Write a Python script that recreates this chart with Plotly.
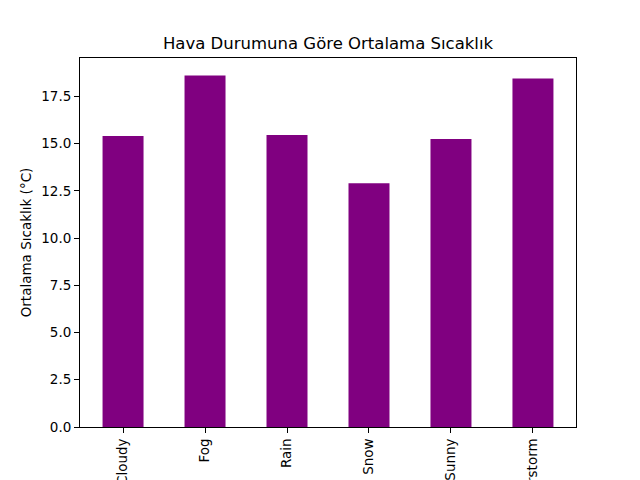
import plotly.graph_objects as go

## Data
conditions = ["Cloudy", "Fog", "Rain", "Snow", "Sunny", "Thunderstorm"]
avg_temp = [15.40, 18.60, 15.45, 12.90, 15.24, 18.45]

chart_title = "Hava Durumuna Göre Ortalama Sıcaklık"
y_title = "Ortalama Sıcaklık (°C)"

font_family = "DejaVu Sans"

fig = go.Figure(
    go.Bar(
        x=conditions,
        y=avg_temp,
        width=0.5,
        marker=dict(color="purple", line=dict(width=0)),
    )
)

# axes framed like a matplotlib box
axis_style = dict(
    showline=True,
    linecolor="black",
    linewidth=1,
    mirror=True,
    ticks="outside",
    ticklen=5,
    tickcolor="black",
    showgrid=False,
    zeroline=False,
    automargin=False,
    tickfont=dict(family=font_family, size=13.5, color="black"),
)

fig.update_xaxes(
    axis_style,
    range=[-0.525, 5.525],
    tickangle=-90,
)
fig.update_yaxes(
    axis_style,
    range=[0, 19.53],
    dtick=2.5,
    tick0=0,
    tickformat=".1f",
    title=dict(text=y_title, font=dict(family=font_family, size=13.5, color="black"), standoff=6),
)

fig.update_layout(
    template="none",
    width=640,
    height=480,
    margin=dict(l=80, r=64, t=58, b=53),
    paper_bgcolor="white",
    plot_bgcolor="white",
    showlegend=False,
    title=dict(
        text=chart_title,
        font=dict(family=font_family, size=16.5, color="black"),
        x=(80 + 576) / 2 / 640,
        xanchor="center",
        y=1 - 43 / 480,
        yanchor="middle",
    ),
)

# drop the page's default body margin so the figure sits at the top-left corner
fig.write_html(
    "out.html",
    config={"displayModeBar": False},
    post_script="document.body.style.margin='0';",
)
